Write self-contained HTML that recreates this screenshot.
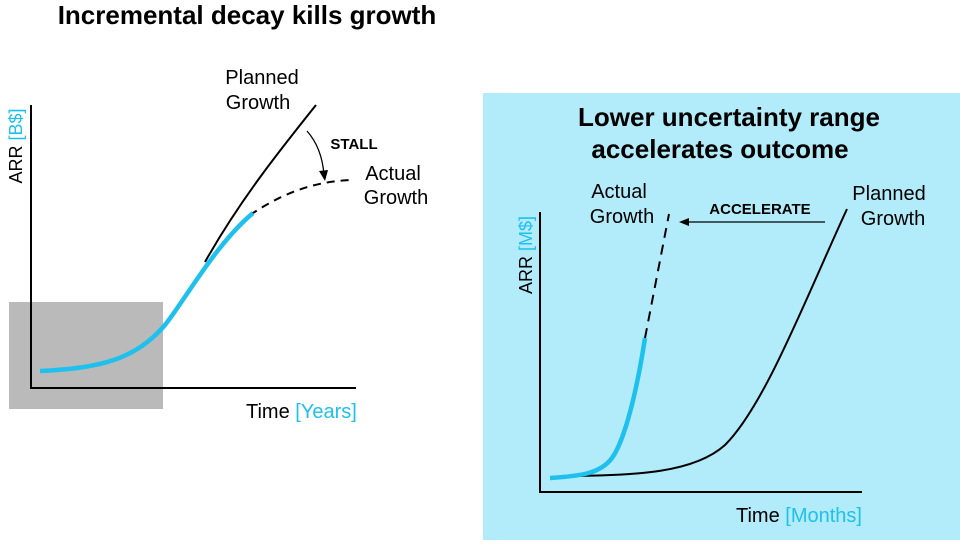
<!DOCTYPE html>
<html><head><style>
body{margin:0;background:#fff;}
svg text{font-family:"Liberation Sans",sans-serif;}
</style></head><body>
<svg width="960" height="540" xmlns="http://www.w3.org/2000/svg">
<rect width="960" height="540" fill="#fff"/>
<text x="247" y="24" font-size="26" font-weight="bold" text-anchor="middle">Incremental decay kills growth</text>
<rect x="9" y="302" width="154" height="107" fill="#bababa"/>
<path d="M31 105 V388 H356" fill="none" stroke="#000" stroke-width="2"/>
<text transform="translate(22,146) rotate(-90)" font-size="18" text-anchor="middle">ARR <tspan fill="#1ec0ee">[B$]</tspan></text>
<text x="246" y="418" font-size="20">Time <tspan fill="#1ec0ee">[Years]</tspan></text>
<path d="M205 262 C240 200, 280 150, 316 105" fill="none" stroke="#000" stroke-width="2"/>
<path d="M250 215 C280 195, 310 182, 350 180" fill="none" stroke="#000" stroke-width="2" stroke-dasharray="8,6"/>
<path d="M40 371 C100 368, 135 360, 165 325 C185 300, 215 245, 253 213" fill="none" stroke="#1ec0ee" stroke-width="4.5"/>
<path d="M307 131 Q322 148 324 175" fill="none" stroke="#000" stroke-width="1.3"/>
<path d="M319 171 L325 181 L328 170 Z" fill="#000"/>
<text x="262" y="84" font-size="20" text-anchor="middle">Planned</text>
<text x="258" y="109" font-size="20" text-anchor="middle">Growth</text>
<text x="354" y="149" font-size="15" font-weight="bold" text-anchor="middle">STALL</text>
<text x="393" y="180" font-size="20" text-anchor="middle">Actual</text>
<text x="396" y="204" font-size="20" text-anchor="middle">Growth</text>

<rect x="483" y="93" width="477" height="447" fill="#b2ebf9"/>
<text x="729" y="126" font-size="26" font-weight="bold" text-anchor="middle">Lower uncertainty range</text>
<text x="720" y="158" font-size="26" font-weight="bold" text-anchor="middle">accelerates outcome</text>
<path d="M540 212 V492 H862" fill="none" stroke="#000" stroke-width="2"/>
<text transform="translate(532,255) rotate(-90)" font-size="18" text-anchor="middle">ARR <tspan fill="#1ec0ee">[M$]</tspan></text>
<text x="736" y="522" font-size="20">Time <tspan fill="#1ec0ee">[Months]</tspan></text>
<path d="M560 476 C640 476, 695 472, 725 445 C765 405, 805 300, 847 209" fill="none" stroke="#000" stroke-width="2"/>
<path d="M645 338 L669 214" fill="none" stroke="#000" stroke-width="2" stroke-dasharray="10,7"/>
<path d="M550 478 C580 476, 600 474, 612 458 C625 440, 637 390, 645 338" fill="none" stroke="#1ec0ee" stroke-width="4.5"/>
<path d="M825 222 H686" stroke="#000" stroke-width="1.3"/>
<path d="M679 222 L689 218 L689 226 Z" fill="#000"/>
<text x="760" y="214" font-size="15" font-weight="bold" text-anchor="middle">ACCELERATE</text>
<text x="619" y="198" font-size="20" text-anchor="middle">Actual</text>
<text x="622" y="223" font-size="20" text-anchor="middle">Growth</text>
<text x="889" y="200" font-size="20" text-anchor="middle">Planned</text>
<text x="893" y="225" font-size="20" text-anchor="middle">Growth</text>
</svg>
</body></html>
